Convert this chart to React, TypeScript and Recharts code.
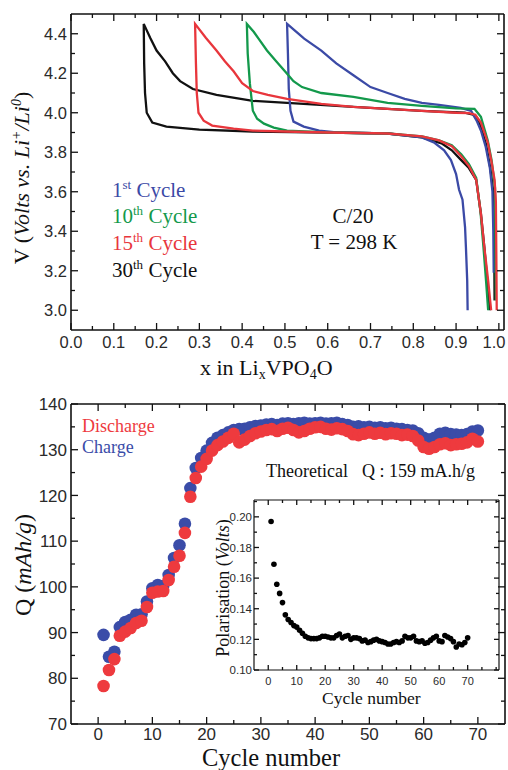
import React from 'react';
import { LineChart, Line, ScatterChart, Scatter, XAxis, YAxis } from 'recharts';

const BLUE = '#3b4aa6';
const GREEN = '#13994b';
const RED = '#e8363c';
const DOT_BLUE = '#3a4ca8';
const DOT_RED = '#ee3a3e';
const SERIF = '"Liberation Serif", "Times New Roman", serif';
const SANS = '"Liberation Sans", Arial, sans-serif';

// voltage curves, [x, V]: charge branch (right -> peak) then discharge (peak -> right)
const cycle1Curve: [number, number][] = [
  [0.988, 3.19], [0.987, 3.4], [0.985, 3.6], [0.979, 3.72], [0.969, 3.83], [0.958, 3.91],
  [0.948, 3.96], [0.935, 4.01], [0.911, 4.025], [0.86, 4.04], [0.82, 4.05], [0.78, 4.07],
  [0.74, 4.1], [0.7, 4.13], [0.66, 4.19], [0.62, 4.25], [0.585, 4.315], [0.545, 4.375],
  [0.505, 4.45], [0.507, 4.3], [0.509, 4.12], [0.513, 4.01], [0.52, 3.955], [0.544, 3.93],
  [0.58, 3.91], [0.62, 3.9], [0.74, 3.895], [0.82, 3.875], [0.848, 3.85], [0.872, 3.81],
  [0.888, 3.76], [0.9, 3.69], [0.907, 3.61], [0.915, 3.56], [0.921, 3.42], [0.923, 3.32],
  [0.926, 3.15], [0.927, 3.0],
];
const cycle10Curve: [number, number][] = [
  [0.993, 3.05], [0.992, 3.35], [0.991, 3.62], [0.983, 3.76], [0.974, 3.86], [0.958, 3.98],
  [0.943, 4.02], [0.9, 4.022], [0.82, 4.035], [0.74, 4.05], [0.66, 4.08], [0.585, 4.1],
  [0.54, 4.13], [0.52, 4.16], [0.5, 4.21], [0.48, 4.26], [0.458, 4.315], [0.44, 4.37],
  [0.427, 4.41], [0.411, 4.45], [0.413, 4.3], [0.418, 4.15], [0.425, 4.01], [0.435, 3.97],
  [0.451, 3.945], [0.474, 3.925], [0.505, 3.91], [0.6, 3.9], [0.74, 3.895], [0.82, 3.88],
  [0.86, 3.86], [0.89, 3.835], [0.912, 3.79], [0.93, 3.74], [0.947, 3.67], [0.957, 3.5],
  [0.964, 3.32], [0.97, 3.15], [0.975, 3.0],
];
const cycle15Curve: [number, number][] = [
  [0.995, 3.0], [0.994, 3.3], [0.993, 3.55], [0.99, 3.66], [0.983, 3.75], [0.974, 3.85],
  [0.958, 3.95], [0.945, 3.99], [0.93, 3.998], [0.9, 4.0], [0.82, 4.01], [0.74, 4.02],
  [0.66, 4.03], [0.585, 4.045], [0.505, 4.07], [0.46, 4.09], [0.425, 4.11], [0.4, 4.15],
  [0.38, 4.21], [0.36, 4.26], [0.34, 4.315], [0.315, 4.38], [0.29, 4.45], [0.292, 4.25],
  [0.294, 4.1], [0.298, 4.0], [0.31, 3.96], [0.33, 3.935], [0.38, 3.92], [0.425, 3.91],
  [0.5, 3.905], [0.6, 3.9], [0.74, 3.895], [0.82, 3.88], [0.86, 3.86], [0.89, 3.83],
  [0.912, 3.78], [0.93, 3.73], [0.947, 3.66], [0.958, 3.49], [0.966, 3.32], [0.975, 3.15],
  [0.982, 3.0],
];
const cycle30Curve: [number, number][] = [
  [0.99, 3.05], [0.989, 3.4], [0.987, 3.6], [0.98, 3.72], [0.97, 3.84], [0.955, 3.95],
  [0.94, 3.99], [0.92, 4.0], [0.82, 4.01], [0.66, 4.03], [0.505, 4.05], [0.425, 4.06],
  [0.34, 4.09], [0.285, 4.12], [0.255, 4.16], [0.238, 4.2], [0.22, 4.26], [0.2, 4.315],
  [0.185, 4.38], [0.17, 4.45], [0.171, 4.25], [0.173, 4.1], [0.177, 4.0], [0.19, 3.95],
  [0.223, 3.93], [0.3, 3.915], [0.425, 3.905], [0.6, 3.9], [0.74, 3.895], [0.82, 3.875],
  [0.866, 3.845], [0.89, 3.81], [0.912, 3.76], [0.93, 3.72], [0.947, 3.66], [0.958, 3.49],
  [0.966, 3.32], [0.973, 3.15], [0.979, 3.0],
];

const cycleNumbers = [
  1, 2, 3, 4, 5, 6, 7, 8, 9, 10, 11, 12, 13, 14, 15, 16, 17, 18, 19, 20,
  21, 22, 23, 24, 25, 26, 27, 28, 29, 30, 31, 32, 33, 34, 35, 36, 37, 38, 39, 40,
  41, 42, 43, 44, 45, 46, 47, 48, 49, 50, 51, 52, 53, 54, 55, 56, 57, 58, 59, 60,
  61, 62, 63, 64, 65, 66, 67, 68, 69, 70,
];
const chargeQ = [
  89.5, 84.7, 85.8, 91.2, 92.3, 92.8, 93.9, 94.0, 96.8, 99.7, 100.4, 100.2, 102.6, 106.3, 109.1, 113.8, 121.6, 126.0, 128.2, 129.8,
  131.5, 132.6, 133.2, 133.8, 134.3, 134.5, 134.6, 134.9, 135.2, 135.3, 135.5, 135.6, 135.4, 135.7, 135.8, 135.6, 135.8, 135.9, 135.7, 135.8,
  135.9, 135.7, 135.8, 135.9, 135.6, 135.4, 135.0, 135.1, 134.9, 135.0, 134.8, 134.9, 134.7, 134.8, 134.6, 134.5, 134.3, 134.2, 133.6, 132.6,
  132.2, 132.6, 133.5, 133.7, 133.4, 133.3, 133.2, 133.4, 134.0, 134.2,
];
const dischargeQ = [
  78.3, 81.8, 84.2, 89.3, 90.2, 91.0, 92.1, 92.6, 95.6, 98.7, 99.0, 99.1, 101.5, 104.4, 106.8, 111.8, 119.7, 123.8, 126.3, 128.0,
  129.8, 131.0, 131.8, 132.6, 133.5, 131.6, 132.2, 133.0, 133.6, 134.0, 134.3, 134.5, 134.1, 134.6, 134.8, 134.3, 133.8, 134.1, 134.6, 134.9,
  135.0, 134.6, 134.4, 134.7, 134.5, 134.1, 133.4, 133.2, 133.5, 133.8, 133.5, 133.7, 133.4, 133.6, 133.5, 133.2, 133.3, 133.0, 132.0, 130.6,
  130.2, 130.6, 131.2, 131.4, 131.0, 131.2, 131.3, 131.6, 132.4, 131.8,
];
const polarisation = [
  0.197, 0.169, 0.156, 0.15, 0.144, 0.136, 0.133, 0.131, 0.129, 0.128, 0.126, 0.124, 0.122, 0.121, 0.1205, 0.1205, 0.1205, 0.121, 0.122, 0.122,
  0.1215, 0.121, 0.121, 0.1225, 0.1235, 0.121, 0.122, 0.1225, 0.12, 0.121, 0.121, 0.1205, 0.119, 0.1195, 0.118, 0.1185, 0.1195, 0.12, 0.119, 0.1185,
  0.118, 0.117, 0.117, 0.118, 0.1185, 0.118, 0.119, 0.122, 0.121, 0.121, 0.122, 0.119, 0.1185, 0.119, 0.1175, 0.118, 0.1195, 0.121, 0.122, 0.119,
  0.1185, 0.1225, 0.1215, 0.1205, 0.1185, 0.115, 0.117, 0.1165, 0.118, 0.121,
];

const vxTicks = [0, 0.05, 0.1, 0.15, 0.2, 0.25, 0.3, 0.35, 0.4, 0.45, 0.5, 0.55, 0.6, 0.65, 0.7, 0.75, 0.8, 0.85, 0.9, 0.95, 1.0];
const vxLabels = [0, 0.1, 0.2, 0.3, 0.4, 0.5, 0.6, 0.7, 0.8, 0.9, 1.0];
const vyTicks = [3.0, 3.1, 3.2, 3.3, 3.4, 3.5, 3.6, 3.7, 3.8, 3.9, 4.0, 4.1, 4.2, 4.3, 4.4];
const vyLabels = [3.0, 3.2, 3.4, 3.6, 3.8, 4.0, 4.2, 4.4];
const qxTicks = [0, 5, 10, 15, 20, 25, 30, 35, 40, 45, 50, 55, 60, 65, 70];
const qxLabels = [0, 10, 20, 30, 40, 50, 60, 70];
const qyTicks = [70, 75, 80, 85, 90, 95, 100, 105, 110, 115, 120, 125, 130, 135, 140];
const qyLabels = [70, 80, 90, 100, 110, 120, 130, 140];
const pxTicks = [0, 5, 10, 15, 20, 25, 30, 35, 40, 45, 50, 55, 60, 65, 70, 75, 80];
const pxLabels = [0, 10, 20, 30, 40, 50, 60, 70];
const pyTicks = [0.1, 0.11, 0.12, 0.13, 0.14, 0.15, 0.16, 0.17, 0.18, 0.19, 0.2, 0.21];
const pyLabels = [0.1, 0.12, 0.14, 0.16, 0.18, 0.2];

const pts = (c: [number, number][]) => c.map(([x, v]) => ({ x, v }));
const qCharge = cycleNumbers.map((c, i) => ({ cycle: c, q: chargeQ[i] }));
const qDischarge = cycleNumbers.map((c, i) => ({ cycle: c, q: dischargeQ[i] }));
const polData = cycleNumbers.map((c, i) => ({ cycle: c, p: polarisation[i] }));

type TickOpts = { size: number; off: number; major: number; minor: number; maxX?: number };

// ticks drawn inward, labels outside; pass fmt=null for the unlabelled top/right axes
const inTick = (side: string, majors: number[], fmt: ((v: number) => string) | null, o: TickOpts) => (props: any) => {
  const { x, y, payload } = props;
  const v = payload.value;
  const isMajor = majors.includes(v);
  const len = isMajor ? o.major : o.minor;
  const txt = fmt && isMajor ? fmt(v) : null;
  const st = { stroke: '#111', strokeWidth: 1.3 };
  const ts = { fontFamily: SANS, fontSize: o.size, fill: '#2a2a2a' };
  if (side === 'bottom') {
    const tx = o.maxX != null ? Math.min(x, o.maxX) : x;
    return (
      <g>
        <line x1={x} y1={y} x2={x} y2={y - len} {...st} />
        {txt && <text x={tx} y={y + o.off} textAnchor="middle" {...ts}>{txt}</text>}
      </g>
    );
  }
  if (side === 'top') return <line x1={x} y1={y} x2={x} y2={y + len} {...st} />;
  if (side === 'right') return <line x1={x} y1={y} x2={x - len} y2={y} {...st} />;
  return (
    <g>
      <line x1={x} y1={y} x2={x + len} y2={y} {...st} />
      {txt && <text x={x - o.off} y={y} dy="0.36em" textAnchor="end" {...ts}>{txt}</text>}
    </g>
  );
};

const AXIS = { stroke: '#111', strokeWidth: 1.6 };
const mainTick: TickOpts = { size: 16.5, off: 18, major: 7, minor: 4 };
const mainYTick: TickOpts = { size: 16.5, off: 4, major: 7, minor: 4 };
const insetTick: TickOpts = { size: 11, off: 15, major: 5, minor: 3 };
const insetYTick: TickOpts = { size: 11.5, off: 2, major: 5, minor: 3 };

function VoltageChart() {
  const common = { type: 'number' as const, interval: 0 as const, tickLine: false, tickSize: 0, tickMargin: 0, axisLine: AXIS, allowDataOverflow: true };
  return (
    <LineChart width={508} height={390} margin={{ top: 13, right: 3, bottom: 20, left: 0 }}>
      <XAxis xAxisId="b" dataKey="x" domain={[0, 1.012]} ticks={vxTicks} height={40} {...common}
        tick={inTick('bottom', vxLabels, (v) => v.toFixed(1), { ...mainTick, maxX: 494 })} />
      <XAxis xAxisId="t" orientation="top" dataKey="x" domain={[0, 1.012]} ticks={vxTicks} height={1} {...common}
        tick={inTick('top', vxLabels, null, mainTick)} />
      <YAxis yAxisId="l" domain={[2.9, 4.5]} ticks={vyTicks} width={71} {...common}
        tick={inTick('left', vyLabels, (v) => v.toFixed(1), mainYTick)} />
      <YAxis yAxisId="r" orientation="right" domain={[2.9, 4.5]} ticks={vyTicks} width={1} {...common}
        tick={inTick('right', vyLabels, null, mainYTick)} />
      <Line xAxisId="b" yAxisId="l" data={pts(cycle30Curve)} dataKey="v" type="linear" stroke="#111" strokeWidth={2.3} dot={false} isAnimationActive={false} />
      <Line xAxisId="b" yAxisId="l" data={pts(cycle1Curve)} dataKey="v" type="linear" stroke={BLUE} strokeWidth={2.3} dot={false} isAnimationActive={false} />
      <Line xAxisId="b" yAxisId="l" data={pts(cycle10Curve)} dataKey="v" type="linear" stroke={GREEN} strokeWidth={2.3} dot={false} isAnimationActive={false} />
      <Line xAxisId="b" yAxisId="l" data={pts(cycle15Curve)} dataKey="v" type="linear" stroke={RED} strokeWidth={2.3} dot={false} isAnimationActive={false} />
    </LineChart>
  );
}

function CapacityChart() {
  const common = { type: 'number' as const, interval: 0 as const, tickLine: false, tickSize: 0, tickMargin: 0, axisLine: AXIS, allowDataOverflow: true };
  return (
    <ScatterChart width={508} height={380} margin={{ top: 13, right: 2, bottom: 6, left: 0 }}>
      <XAxis xAxisId="b" dataKey="cycle" domain={[-5, 75]} ticks={qxTicks} height={40} {...common}
        tick={inTick('bottom', qxLabels, (v) => String(v), { ...mainTick, size: 17, off: 16 })} />
      <XAxis xAxisId="t" orientation="top" dataKey="cycle" domain={[-5, 75]} ticks={qxTicks} height={1} {...common}
        tick={inTick('top', qxLabels, null, mainTick)} />
      <YAxis yAxisId="l" dataKey="q" domain={[70, 140]} ticks={qyTicks} width={71} {...common}
        tick={inTick('left', qyLabels, (v) => String(v), { ...mainYTick, size: 17 })} />
      <YAxis yAxisId="r" orientation="right" dataKey="q" domain={[70, 140]} ticks={qyTicks} width={1} {...common}
        tick={inTick('right', qyLabels, null, mainYTick)} />
      <Scatter xAxisId="b" yAxisId="l" data={qCharge} isAnimationActive={false}
        shape={(p: any) => <circle cx={p.cx} cy={p.cy} r={6.3} fill={DOT_BLUE} />} />
      <Scatter xAxisId="b" yAxisId="l" data={qDischarge} isAnimationActive={false}
        shape={(p: any) => <circle cx={p.cx} cy={p.cy} r={6.3} fill={DOT_RED} />} />
    </ScatterChart>
  );
}

function PolarisationInset() {
  const common = { type: 'number' as const, interval: 0 as const, tickLine: false, tickSize: 0, tickMargin: 0, axisLine: { stroke: '#111', strokeWidth: 1.2 }, allowDataOverflow: true };
  return (
    <ScatterChart width={305} height={215} margin={{ top: 4, right: 5, bottom: 10, left: 0 }}>
      <XAxis xAxisId="b" dataKey="cycle" domain={[-5, 81]} ticks={pxTicks} height={30} {...common}
        tick={inTick('bottom', pxLabels, (v) => String(v), insetTick)} />
      <XAxis xAxisId="t" orientation="top" dataKey="cycle" domain={[-5, 81]} ticks={pxTicks} height={1} {...common}
        tick={inTick('top', pxLabels, null, insetTick)} />
      <YAxis yAxisId="l" dataKey="p" domain={[0.1, 0.211]} ticks={pyTicks} width={54} {...common}
        tick={inTick('left', pyLabels, (v) => v.toFixed(2), insetYTick)} />
      <YAxis yAxisId="r" orientation="right" dataKey="p" domain={[0.1, 0.211]} ticks={pyTicks} width={1} {...common}
        tick={inTick('right', pyLabels, null, insetYTick)} />
      <Scatter xAxisId="b" yAxisId="l" data={polData} isAnimationActive={false}
        shape={(p: any) => <circle cx={p.cx} cy={p.cy} r={2.8} fill="#000" />} />
    </ScatterChart>
  );
}

function Annotations() {
  const serif = { fontFamily: SERIF };
  return (
    <svg width={508} height={770} style={{ position: 'absolute', left: 0, top: 0, pointerEvents: 'none' }}>
      <g {...serif} fontSize={21}>
        <text x={112} y={197} fill={BLUE}>1<tspan fontSize={13} dy={-8}>st</tspan><tspan dy={8}>{' Cycle'}</tspan></text>
        <text x={112} y={223} fill={GREEN}>10<tspan fontSize={13} dy={-8}>th</tspan><tspan dy={8}>{' Cycle'}</tspan></text>
        <text x={112} y={250} fill={RED}>15<tspan fontSize={13} dy={-8}>th</tspan><tspan dy={8}>{' Cycle'}</tspan></text>
        <text x={112} y={277} fill="#111">30<tspan fontSize={13} dy={-8}>th</tspan><tspan dy={8}>{' Cycle'}</tspan></text>
        <text x={353} y={223} textAnchor="middle" fill="#111">C/20</text>
        <text x={354} y={249} textAnchor="middle" fill="#111">T = 298 K</text>
      </g>
      <text x={200} y={375} {...serif} fontSize={22} fill="#111">
        x in Li<tspan fontSize={14} dy={4}>x</tspan><tspan dy={-4}>VPO</tspan><tspan fontSize={14} dy={4}>4</tspan><tspan dy={-4}>O</tspan>
      </text>
      <text x={29} y={178} transform="rotate(-90 29 178)" textAnchor="middle" {...serif} fontSize={22} fill="#111">
        {'V ('}<tspan fontStyle="italic">Volts vs. Li</tspan><tspan fontStyle="italic" fontSize={14} dy={-8}>+</tspan>
        <tspan fontStyle="italic" dy={8}>/Li</tspan><tspan fontStyle="italic" fontSize={14} dy={-8}>0</tspan><tspan dy={8}>)</tspan>
      </text>

      <text x={82} y={432} {...serif} fontSize={18} fill={DOT_RED}>Discharge</text>
      <text x={82} y={453} {...serif} fontSize={18} fill={DOT_BLUE}>Charge</text>
      <text x={266} y={477} {...serif} fontSize={18} fill="#111">Theoretical<tspan dx={14}>Q : 159 mA.h/g</tspan></text>
      <text x={202} y={765.5} {...serif} fontSize={24.5} fill="#111">Cycle number</text>
      <text x={31} y={565} transform="rotate(-90 31 565)" textAnchor="middle" {...serif} fontSize={24} fill="#111">
        {'Q ('}<tspan fontStyle="italic">mAh/g</tspan>)
      </text>

      <text x={322} y={704} {...serif} fontSize={17.5} fill="#111">Cycle number</text>
      <text x={229} y={588} transform="rotate(-90 229 588)" textAnchor="middle" {...serif} fontSize={18} fill="#111">
        {'Polarisation ('}<tspan fontStyle="italic">Volts</tspan>)
      </text>
    </svg>
  );
}

export default function App() {
  return (
    <div style={{ position: 'absolute', left: 0, top: 0, width: 508, height: 770, background: '#fff', overflow: 'hidden' }}>
      <div style={{ position: 'absolute', left: 0, top: 0 }}>
        <VoltageChart />
      </div>
      <div style={{ position: 'absolute', left: 0, top: 390 }}>
        <CapacityChart />
      </div>
      <div style={{ position: 'absolute', left: 200, top: 495 }}>
        <PolarisationInset />
      </div>
      <Annotations />
    </div>
  );
}
